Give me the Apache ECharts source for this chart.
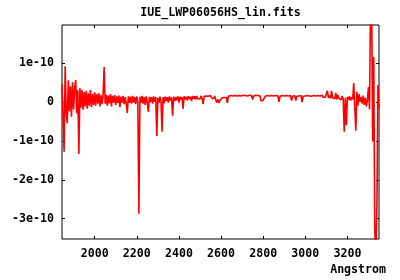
<!DOCTYPE html>
<html>
<head>
<meta charset="utf-8">
<script src="https://cdn.jsdelivr.net/npm/echarts@6/dist/echarts.min.js"></script>
<style>
html,body{margin:0;padding:0;background:#fff;}
#chart{width:400px;height:280px;}
</style>
</head>
<body>
<div id="chart"></div>
<script>
// Spectrum: wavelength grid (Angstrom) and flux in units of 1e-10
const waveStart = 1845;
const waveStep = 5;
const fluxE10 = [
  // 1845 - 1940
  0.45, -0.35, -1.28, 0.91, -0.3, -0.55, 0.55, -0.25, 0.4, -0.38,
  0.5, -0.2, 0.35, 0.56, -0.3, 0.3, -1.34, 0.35, -0.15, 0.3,
  // 1945 - 2040
  -0.2, 0.25, -0.12, 0.28, -0.18, 0.22, -0.1, 0.3, -0.14, 0.2,
  -0.08, 0.24, -0.1, 0.2, -0.05, 0.22, -0.12, 0.18, -0.06, 0.15,
  // 2045 - 2140
  0.89, -0.05, 0.18, -0.1, 0.16, -0.04, 0.2, -0.12, 0.15, -0.02,
  0.17, -0.08, 0.14, -0.03, 0.16, -0.14, 0.13, -0.02, 0.15, -0.06,
  // 2145 - 2240
  0.12, -0.04, -0.29, 0.14, -0.03, 0.13, -0.05, 0.15, -0.02, 0.12,
  -0.06, 0.14, 0.0, -2.87, 0.13, -0.03, 0.15, -0.05, 0.12, -0.08,
  // 2245 - 2340
  0.14, -0.02, -0.26, 0.13, -0.01, 0.12, -0.05, 0.14, 0.0, 0.12,
  -0.88, 0.1, -0.03, 0.13, 0.01, -0.77, 0.12, -0.04, 0.13, 0.02,
  // 2345 - 2440
  0.12, -0.02, 0.14, 0.03, 0.11, -0.36, 0.13, 0.02, 0.12, 0.04,
  0.14, -0.02, 0.13, 0.05, 0.12, -0.18, 0.14, 0.06, 0.13, 0.04,
  // 2445 - 2540
  0.14, 0.07, 0.13, 0.02, 0.15, 0.08, 0.14, 0.06, 0.15, 0.08,
  0.13, 0.07, 0.15, 0.09, -0.06, 0.14, 0.09, 0.15, 0.1, 0.14,
  // 2545 - 2640
  0.09, 0.16, 0.1, 0.14, 0.08, 0.15, 0.05, -0.02, 0.06, -0.03,
  0.04, 0.02, 0.1, 0.14, 0.11, 0.16, 0.11, -0.03, 0.14, 0.12,
  // 2645 - 2740
  0.16, 0.12, 0.15, 0.11, 0.16, 0.12, 0.15, 0.13, 0.16, 0.12,
  0.15, 0.13, 0.17, 0.12, 0.16, 0.13, 0.15, 0.12, 0.17, 0.13,
  // 2745 - 2840
  0.16, 0.06, 0.15, 0.13, 0.17, 0.12, 0.16, 0.13, 0.15, 0.02,
  0.0, 0.04, 0.01, 0.14, 0.12, 0.16, 0.13, 0.15, 0.12, 0.16,
  // 2845 - 2940
  0.13, 0.15, 0.12, 0.16, 0.13, 0.15, 0.0, 0.14, 0.12, 0.16,
  0.13, 0.15, 0.12, 0.16, 0.13, 0.15, 0.12, 0.16, 0.03, 0.14,
  // 2945 - 3040
  0.12, 0.16, 0.03, 0.14, 0.12, 0.15, 0.13, 0.16, -0.01, 0.14,
  0.12, 0.15, 0.13, 0.16, 0.12, 0.15, 0.13, 0.14, 0.11, 0.16,
  // 3045 - 3140
  0.13, 0.15, 0.12, 0.16, 0.13, 0.15, 0.12, 0.17, 0.11, 0.15,
  0.12, 0.16, 0.28, 0.1, 0.16, 0.09, 0.28, 0.1, 0.15, 0.08,
  // 3145 - 3240
  0.23, 0.06, 0.17, 0.09, 0.13, 0.05, 0.15, 0.08, -0.77, 0.1,
  -0.6, 0.12, 0.05, 0.14, 0.03, 0.12, 0.06, 0.48, 0.45, -0.74,
  // 3245 - 3350
  0.26, -0.1, 0.2, 0.0, 0.12, -0.05, 0.16, -0.08, 0.1, -0.12,
  0.05, 0.38, -0.2, 2.6, 2.5, -1.02, 1.15, -3.33, -3.9, -2.72,
  0.43, -0.18
];
const xTicks = [2000, 2200, 2400, 2600, 2800, 3000, 3200];
const yTicks = [-3, -2, -1, 0, 1];
const titleText = 'IUE_LWP06056HS_lin.fits';
const xName = 'Angstrom';

const seriesData = fluxE10.map((f, i) => [waveStart + i * waveStep, f]);

const FONT = 'DejaVu Sans Mono';
const labelStyle = {color: '#000', fontFamily: FONT, fontWeight: 'bold', fontSize: 11.6};

const chart = echarts.init(document.getElementById('chart'), null, {renderer: 'canvas'});
chart.setOption({
  animation: false,
  backgroundColor: '#fff',
  title: [
    {text: titleText, left: 220.5, top: 7, padding: 0, textAlign: 'center',
     textStyle: Object.assign({}, labelStyle)},
    {text: xName, right: 14, top: 264, padding: 0,
     textStyle: Object.assign({}, labelStyle)}
  ],
  grid: {left: 62, right: 21, top: 25, bottom: 41, show: true, borderColor: '#000', borderWidth: 1, containLabel: false},
  xAxis: [
    {type: 'value', min: 1845, max: 3350, position: 'bottom',
     axisLine: {show: false, onZero: false},
     axisTick: {show: true, inside: true, length: 3, customValues: xTicks, lineStyle: {color: '#000'}},
     axisLabel: Object.assign({show: true, margin: 9, customValues: xTicks, formatter: v => String(v)}, labelStyle),
     splitLine: {show: false}},
    {type: 'value', min: 1845, max: 3350, position: 'top',
     axisLine: {show: false, onZero: false},
     axisTick: {show: true, inside: true, length: 3, customValues: xTicks, lineStyle: {color: '#000'}},
     axisLabel: {show: false},
     splitLine: {show: false}}
  ],
  yAxis: [
    {type: 'value', min: -3.52, max: 1.97, position: 'left',
     axisLine: {show: false, onZero: false},
     axisTick: {show: true, inside: true, length: 3, customValues: yTicks, lineStyle: {color: '#000'}},
     axisLabel: Object.assign({show: true, margin: 8, customValues: yTicks,
       formatter: v => (v === 0 ? '0' : v + 'e-10')}, labelStyle),
     splitLine: {show: false}},
    {type: 'value', min: -3.52, max: 1.97, position: 'right',
     axisLine: {show: false, onZero: false},
     axisTick: {show: true, inside: true, length: 3, customValues: yTicks, lineStyle: {color: '#000'}},
     axisLabel: {show: false},
     splitLine: {show: false}}
  ],
  series: [{
    type: 'line',
    xAxisIndex: 0, yAxisIndex: 0,
    data: seriesData,
    showSymbol: false,
    symbol: 'none',
    clip: true,
    lineStyle: {color: '#ff0000', width: 1.6},
    emphasis: {disabled: true}
  }]
});
</script>
</body>
</html>
